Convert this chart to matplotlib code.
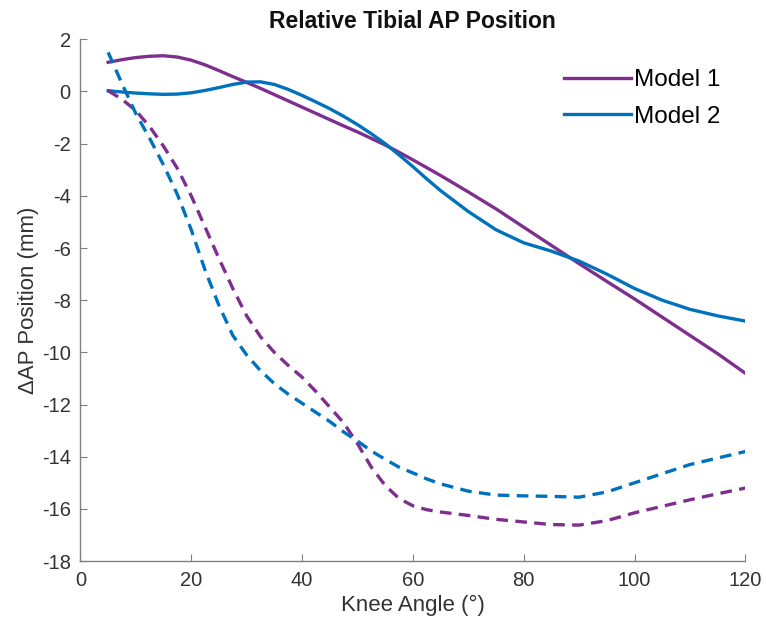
import numpy as np
import matplotlib.pyplot as plt

plt.rcParams['font.family'] = ['Liberation Sans', 'DejaVu Sans']
plt.rcParams['axes.unicode_minus'] = False

# knee flexion angles (deg)
angle = [5, 7.5, 10, 12.5, 15, 17.5, 20, 22.5, 25, 27.5, 30, 32.5, 35, 37.5,
         40, 42.5, 45, 47.5, 50, 52.5, 55, 57.5, 60, 62.5, 65, 70, 75, 80,
         85, 90, 95, 100, 105, 110, 115, 120]

# solid curves
model1 = [1.12, 1.22, 1.3, 1.35, 1.37, 1.32, 1.2, 1.02, 0.8, 0.57, 0.35,
          0.12, -0.12, -0.36, -0.6, -0.84, -1.08, -1.32, -1.55, -1.8, -2.05,
          -2.33, -2.62, -2.92, -3.22, -3.85, -4.5, -5.2, -5.9, -6.6, -7.28,
          -7.95, -8.65, -9.35, -10.05, -10.8]
model2 = [0.03, -0.02, -0.06, -0.09, -0.11, -0.1, -0.05, 0.04, 0.15, 0.27,
          0.36, 0.37, 0.27, 0.08, -0.15, -0.4, -0.66, -0.95, -1.27, -1.62,
          -2.0, -2.43, -2.88, -3.35, -3.8, -4.6, -5.3, -5.8, -6.12, -6.5,
          -7.0, -7.55, -8.0, -8.35, -8.6, -8.8]

# dashed curves
model1_d = [0.03, -0.3, -0.73, -1.35, -2.1, -2.95, -4.0, -5.2, -6.4, -7.55,
            -8.6, -9.4, -10.0, -10.5, -10.95, -11.5, -12.1, -12.7, -13.5,
            -14.4, -15.1, -15.6, -15.88, -16.03, -16.12, -16.25, -16.4,
            -16.5, -16.6, -16.62, -16.45, -16.15, -15.9, -15.65, -15.42,
            -15.2]
model2_d = [1.5, 0.3, -0.85, -1.8, -2.82, -3.95, -5.3, -6.85, -8.2, -9.35,
            -10.1, -10.7, -11.2, -11.6, -11.95, -12.3, -12.65, -13.05,
            -13.4, -13.78, -14.1, -14.4, -14.62, -14.85, -15.04, -15.32,
            -15.47, -15.5, -15.52, -15.55, -15.35, -15.0, -14.65, -14.3,
            -14.05, -13.8]

purple = '#7E2F8E'
blue = '#0072BD'

fig = plt.figure(figsize=(7.66, 6.34), dpi=100)
ax = fig.add_axes([0.105, 0.115, 0.868, 0.823])

ax.plot(angle, model1, color=purple, lw=2.4, label='Model 1')
ax.plot(angle, model2, color=blue, lw=2.4, label='Model 2')
ax.plot(angle, model1_d, color=purple, lw=2.4, dashes=(3.5, 2.2))
ax.plot(angle, model2_d, color=blue, lw=2.4, dashes=(3.5, 2.2))

ax.set_xlim(0, 120)
ax.set_ylim(-18, 2)
ax.set_xticks(np.arange(0, 121, 20))
ax.set_yticks(np.arange(-18, 3, 2))

for s in ['top', 'right']:
    ax.spines[s].set_visible(False)
for s in ['left', 'bottom']:
    ax.spines[s].set_color('#808080')
    ax.spines[s].set_linewidth(1.0)
ax.tick_params(direction='in', length=5, color='#808080', labelsize=14.5,
               labelcolor='#333333', pad=7)

ax.set_xlabel('Knee Angle (°)', fontsize=16, color='#333333', labelpad=4)
ax.set_ylabel('ΔAP Position (mm)', fontsize=16, color='#333333', labelpad=2)
ax.set_title('Relative Tibial AP Position', fontsize=16.5, fontweight='bold',
             color='#111111', pad=8)

ax.legend(loc='upper right', frameon=False, fontsize=17.5, handlelength=2.75,
          handletextpad=0.1, labelspacing=0.6, bbox_to_anchor=(0.995, 0.985))

fig.savefig('out.png', dpi=100)
